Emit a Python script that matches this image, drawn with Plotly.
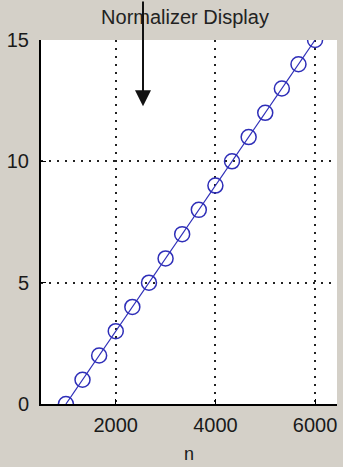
import plotly.graph_objects as go

# datos
n_vals = [1000, 1333, 1667, 2000, 2333, 2667, 3000, 3333,
          3667, 4000, 4333, 4667, 5000, 5333, 5667, 6000]
salida = [0, 1, 2, 3, 4, 5, 6, 7, 8, 9, 10, 11, 12, 13, 14, 15]
x_ticks = [2000, 4000, 6000]
y_ticks = [0, 5, 10, 15]

gris = '#d4d0c8'
azul = '#2e2eb8'
fuente = 'Liberation Sans, Arial'

fig = go.Figure()
fig.add_scatter(x=n_vals, y=salida, mode='lines+markers',
                line=dict(color=azul, width=1.2),
                marker=dict(symbol='circle-open', size=15, color=azul,
                            line=dict(width=1.5, color=azul)))

ejes = dict(showline=True, linecolor='black', linewidth=2, ticks='inside',
            ticklen=5, tickcolor='black', showgrid=True, gridcolor='#222',
            griddash='2px,6px', gridwidth=1.5, zeroline=False, mirror=False,
            tickfont=dict(family=fuente, size=20, color='#1a1a1a'))

fig.update_xaxes(range=[500, 6440], tickvals=x_ticks, ticklabelstandoff=2,
                 title=dict(text='n', standoff=12,
                            font=dict(family=fuente, size=18, color='#1a1a1a')),
                 **ejes)
fig.update_yaxes(range=[0, 15], tickvals=y_ticks, ticklabelstandoff=6, **ejes)

fig.update_layout(
    width=343, height=467,
    paper_bgcolor=gris, plot_bgcolor='white',
    margin=dict(l=41, r=6, t=40, b=59),
    showlegend=False,
    title=dict(text='Normalizer Display', x=185 / 343, xanchor='center',
               y=1 - 17 / 467, yanchor='middle',
               font=dict(family=fuente, size=20, color='#222')),
    annotations=[dict(x=(143 - 41) / 296, y=(408 - 107) / 368, xref='paper', yref='paper',
                      ax=0, ay=-110, axref='pixel', ayref='pixel',
                      showarrow=True, arrowhead=2, arrowsize=1.6, arrowwidth=2,
                      arrowcolor='#111', text='')]
)

fig.write_html("out.html", config={'displayModeBar': False},
               post_script="document.body.style.margin='0';")
